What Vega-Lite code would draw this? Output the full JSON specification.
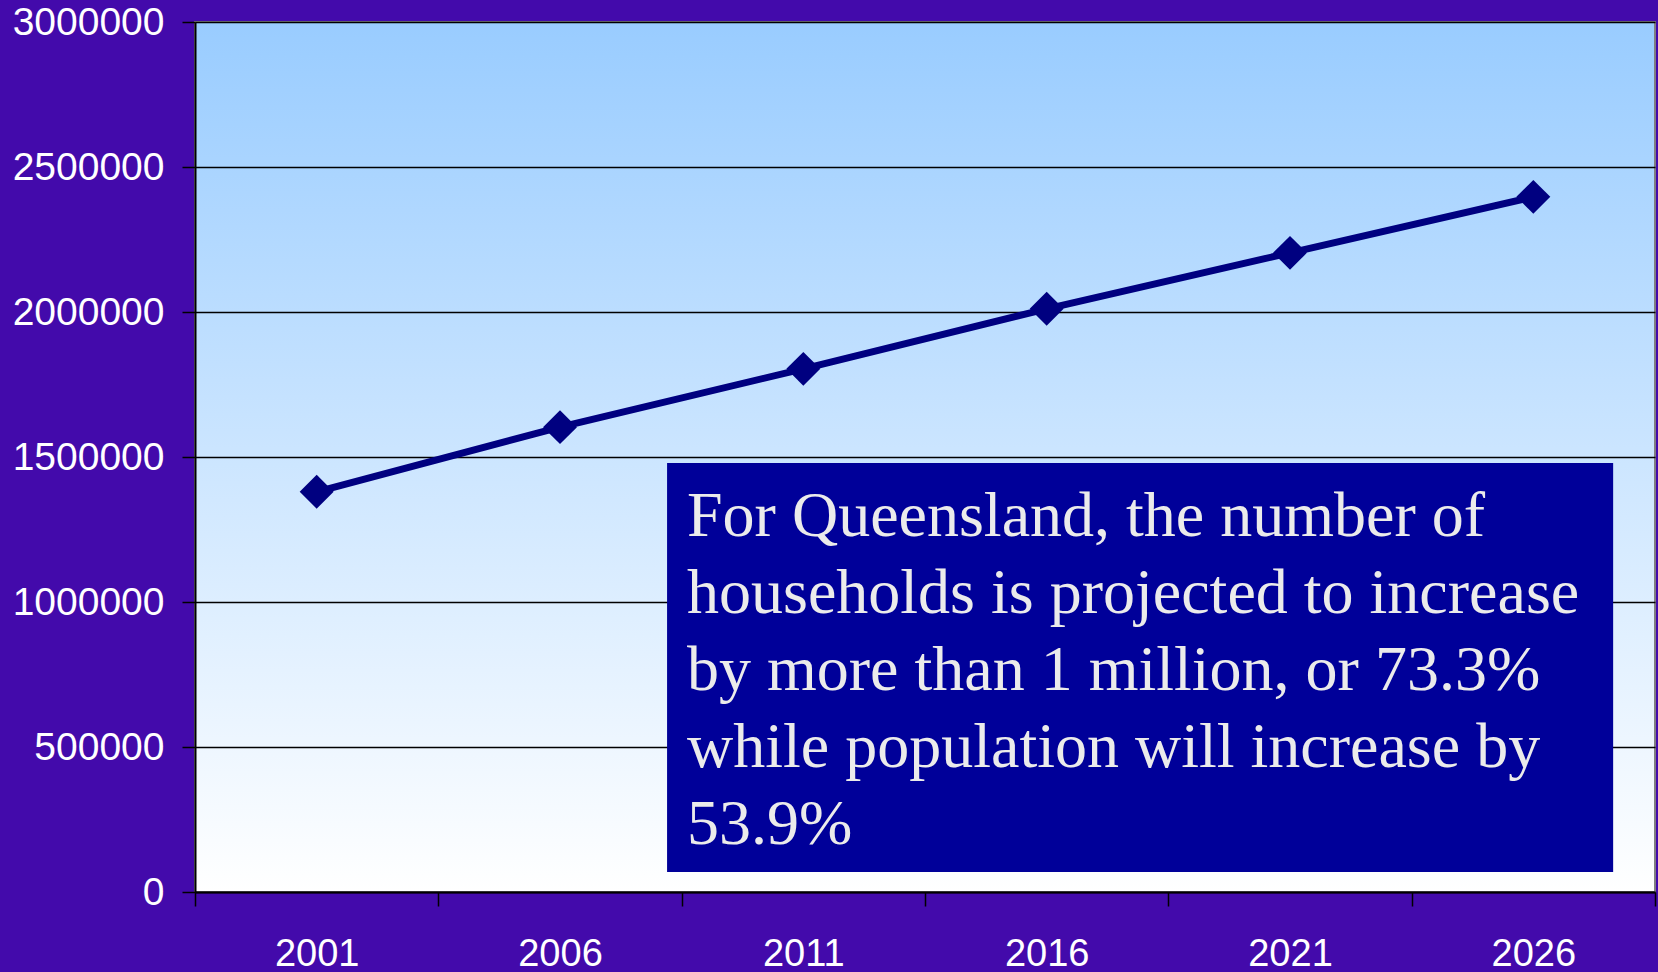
{
  "$schema": "https://vega.github.io/schema/vega-lite/v6.json",
  "width": 1460,
  "height": 870,
  "autosize": {"type": "none"},
  "padding": {"left": 195, "top": 22, "right": 3, "bottom": 80},
  "background": "#430aab",
  "config": {
    "view": {
      "fill": {"gradient": "linear", "x1": 0, "y1": 0, "x2": 0, "y2": 1, "stops": [{"offset": 0, "color": "#99ccff"}, {"offset": 1, "color": "#ffffff"}]},
      "stroke": "#808080",
      "strokeWidth": 2
    },
    "axis": {
      "labelFont": "Liberation Sans",
      "labelFontSize": 38,
      "labelColor": "#ffffff",
      "tickColor": "#000000",
      "tickWidth": 1.5,
      "domainColor": "#000000",
      "domainWidth": 2,
      "title": null
    }
  },
  "data": {
    "values": [
      {"year": 2001, "households": 1380000},
      {"year": 2006, "households": 1603000},
      {"year": 2011, "households": 1804000},
      {"year": 2016, "households": 2011000},
      {"year": 2021, "households": 2204000},
      {"year": 2026, "households": 2397000}
    ]
  },
  "layer": [
    {
      "mark": {"type": "line", "color": "#000080", "strokeWidth": 7},
      "encoding": {
        "x": {
          "field": "year",
          "type": "quantitative",
          "scale": {"domain": [1998.5, 2028.5], "nice": false, "zero": false},
          "axis": {
            "values": [1998.5, 2003.5, 2008.5, 2013.5, 2018.5, 2023.5, 2028.5],
            "labelExpr": "datum.value < 2028 ? '' + (datum.value + 2.5) : ''",
            "labelOffset": 121.67,
            "labelFlush": false,
            "labelOverlap": false,
            "labelBound": false,
            "labelBaseline": "alphabetic",
            "tickSize": 14,
            "labelPadding": 59,
            "grid": false
          }
        },
        "y": {
          "field": "households",
          "type": "quantitative",
          "scale": {"domain": [0, 3000000], "nice": false},
          "axis": {
            "values": [0, 500000, 1000000, 1500000, 2000000, 2500000, 3000000],
            "format": "d",
            "labelFontSize": 39,
            "tickSize": 13,
            "labelPadding": 18,
            "labelOverlap": false,
            "labelFlush": false,
            "grid": true,
            "gridColor": "#000000",
            "gridWidth": 1.3
          }
        }
      }
    },
    {
      "mark": {"type": "point", "shape": "diamond", "filled": true, "size": 1150, "color": "#000080", "opacity": 1},
      "encoding": {
        "x": {"field": "year", "type": "quantitative"},
        "y": {"field": "households", "type": "quantitative"}
      }
    },
    {
      "data": {"values": [{"note": "box"}]},
      "mark": {"type": "rect", "color": "#000099"},
      "encoding": {
        "x": {"datum": 2008.2, "type": "quantitative"},
        "x2": {"datum": 2027.64},
        "y": {"datum": 1479000, "type": "quantitative"},
        "y2": {"datum": 69000}
      }
    },
    {
      "data": {"values": [{"note": "text"}]},
      "mark": {
        "type": "text",
        "text": ["For Queensland, the number of", "households is projected to increase", "by more than 1 million, or 73.3%", "while population will increase by", "53.9%"],
        "font": "Liberation Serif",
        "fontSize": 64,
        "lineHeight": 77,
        "color": "#ebebeb",
        "align": "left",
        "baseline": "alphabetic"
      },
      "encoding": {
        "x": {"datum": 2008.61, "type": "quantitative"},
        "y": {"datum": 1227600, "type": "quantitative"}
      }
    }
  ]
}
